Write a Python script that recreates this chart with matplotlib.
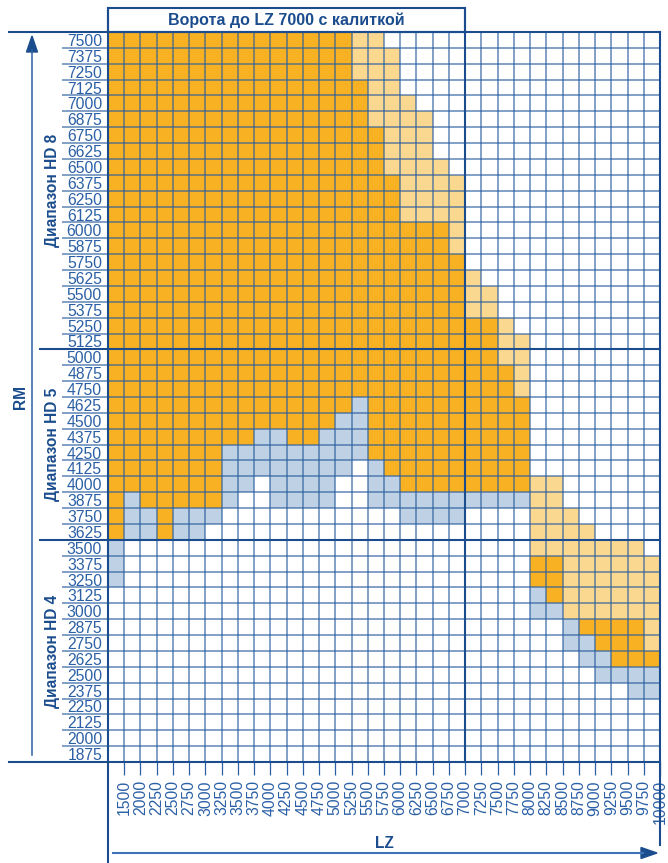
import numpy as np
import matplotlib.pyplot as plt
from matplotlib.colors import ListedColormap
from matplotlib.patches import Polygon, Rectangle

plt.rcParams['font.family'] = ['Liberation Sans', 'DejaVu Sans']

# LZ labels (right edge of each column) and RM labels (one per row, top to bottom)
lz = [1500, 2000, 2250, 2500, 2750, 3000, 3250, 3500, 3750, 4000, 4250, 4500,
      4750, 5000, 5250, 5500, 5750, 6000, 6250, 6500, 6750, 7000, 7250, 7500,
      7750, 8000, 8250, 8500, 8750, 9000, 9250, 9500, 9750, 10000]
rm = [7500, 7375, 7250, 7125, 7000, 6875, 6750, 6625, 6500, 6375, 6250, 6125,
      6000, 5875, 5750, 5625, 5500, 5375, 5250, 5125, 5000, 4875, 4750, 4625,
      4500, 4375, 4250, 4125, 4000, 3875, 3750, 3625, 3500, 3375, 3250, 3125,
      3000, 2875, 2750, 2625, 2500, 2375, 2250, 2125, 2000, 1875]

# cell states per row as runs: D = dark orange, L = light orange, B = blue, . = empty
rows = [
    "D15 L2 .17", "D15 L3 .16", "D15 L3 .16", "D16 L2 .16", "D16 L3 .15",
    "D16 L4 .14", "D17 L3 .14", "D17 L3 .14", "D17 L4 .13", "D18 L4 .12",
    "D18 L4 .12", "D18 L4 .12", "D21 L1 .12", "D21 L1 .12", "D22 .12",
    "D22 L1 .11", "D22 L2 .10", "D22 L2 .10", "D24 L1 .9", "D24 L2 .8",
    "D24 L2 .8", "D25 L1 .8", "D25 L1 .8", "D15 B1 D10 .8", "D14 B2 D10 .8",
    "D9 B2 D2 B3 D10 .8", "D7 B9 D10 .8", "D7 B8 .1 B1 D9 .8",
    "D7 B2 .1 B4 .2 B2 D8 L2 .6", "D1 B1 D5 B1 .2 B4 .2 B10 L2 .6",
    "D1 B2 D1 B3 .11 B4 .4 L3 .5", "D1 B2 D1 B2 .20 L4 .4",
    "B1 .25 L7 .1", "B1 .25 D2 L6", "B1 .25 D2 L6", ".26 B1 D1 L6",
    ".26 B2 L6", ".28 B1 D4 L1", ".28 B2 D3 L1", ".29 B2 D3", ".30 B4",
    ".32 B2", ".34", ".34", ".34", ".34",
]

bands = ["Диапазон HD 8", "Диапазон HD 5", "Диапазон HD 4"]
band_edges = [0, 20, 32, 46]
title = "Ворота до LZ 7000 с калиткой"
title_cols = 22

codes = {'.': 0, 'B': 1, 'L': 2, 'D': 3}
grid = []
for r in rows:
    line = []
    for run in r.split():
        line += [codes[run[0]]] * int(run[1:])
    grid.append(line)
grid = np.array(grid)

navy = '#1b4d8e'
blue = '#2b60a6'
gridc = '#2a5e9e'
cmap = ListedColormap(['white', '#bfd1e4', '#fbd88f', '#f8b122'])

W, H = 668, 863
x0, x1, y0, y1 = 108, 660, 32, 762
fig = plt.figure(figsize=(W / 100, H / 100), dpi=100)
ax = fig.add_axes([x0 / W, 1 - y1 / H, (x1 - x0) / W, (y1 - y0) / H])
ncol, nrow = len(lz), len(rm)
ax.pcolormesh(np.arange(ncol + 1), np.arange(nrow + 1), grid, cmap=cmap,
              vmin=-0.5, vmax=3.5)
ax.set_xlim(0, ncol)
ax.set_ylim(nrow, 0)
for s in ax.spines.values():
    s.set_visible(False)

cw = (x1 - x0) / ncol
ax.vlines(np.arange(ncol + 1), 0, nrow, color=gridc, alpha=0.75, lw=1.1)
ax.hlines(np.arange(nrow + 1), -46 / cw, ncol, color=gridc, alpha=0.75,
          lw=1.1, clip_on=False)

ax.set_xticks(np.arange(1, ncol + 1))
ax.set_xticklabels([str(v) for v in lz], rotation=90, fontsize=11.3, color=blue)
ax.tick_params(axis='x', length=9.4, width=0.9, color=blue, pad=3.6)
ax.set_yticks(np.arange(nrow) + 0.5)
ax.set_yticklabels([str(v) for v in rm], fontsize=11.3, color=blue)
ax.tick_params(axis='y', length=0, pad=4.3)

for name, a, b in zip(bands, band_edges[:-1], band_edges[1:]):
    ax.text(-56 / cw, (a + b) / 2, name, rotation=90, ha='center', va='center',
            fontsize=11.2, fontweight='bold', color=navy, clip_on=False)

# overlay in pixel units for frame lines and arrows
ov = fig.add_axes([0, 0, 1, 1], zorder=3)
ov.set_xlim(0, W)
ov.set_ylim(H, 0)
ov.axis('off')
ov.patch.set_alpha(0)
lw = 1.5
yb = [y0 + (y1 - y0) * e / nrow for e in band_edges]
ov.plot([9, x1], [y0, y0], color=navy, lw=lw)
ov.plot([9, x1], [y1, y1], color=navy, lw=lw)
for y in yb[1:-1]:
    ov.plot([40, x1], [y, y], color=navy, lw=lw)
xt = x0 + cw * title_cols
ov.add_patch(Rectangle((x0, 8), xt - x0, y0 - 8, fill=False, ec=navy, lw=lw))
ov.plot([xt, xt], [8, y1], color=navy, lw=lw)
ov.plot([x0, x0], [8, H], color=navy, lw=lw)
ov.plot([x1, x1], [y0, 845], color=navy, lw=lw)
ov.text((x0 + xt) / 2, 20, title, ha='center', va='center', fontsize=11.5,
        fontweight='bold', color=navy)

# RM arrow
ov.plot([32, 32], [755, 50], color=blue, lw=1.1)
ov.add_patch(Polygon([[32, 36], [26.5, 52], [37.5, 52]], color=navy))
ov.text(21, (y0 + y1) / 2, "RM", rotation=90, ha='center', va='center',
        fontsize=11.2, fontweight='bold', color=navy)

# LZ arrow
ov.plot([113, 643], [853, 853], color='#3f74b6', lw=1.5)
ov.add_patch(Polygon([[657, 853], [641, 847.5], [641, 858.5]], color=navy))
ov.text((x0 + x1) / 2, 843, "LZ", ha='center', va='center', fontsize=11.2,
        fontweight='bold', color=navy)

fig.savefig('out.png', dpi=100)
